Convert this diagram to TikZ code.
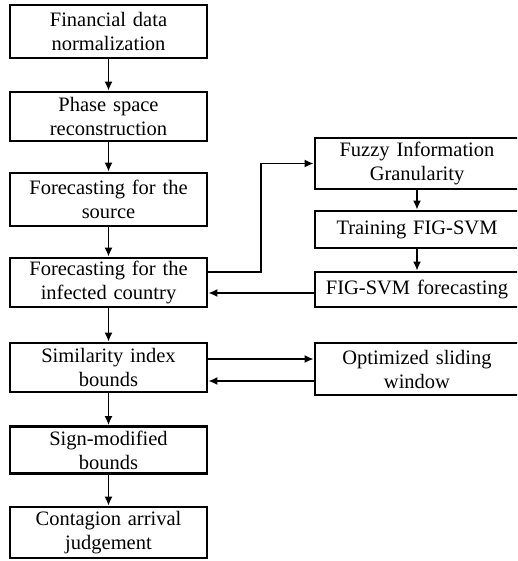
\documentclass[tikz,border=0pt]{standalone}
\usepackage{fontspec}
\setmainfont{Liberation Serif}
\usepackage{tikz}
\usetikzlibrary{arrows.meta, positioning}
\tikzstyle{paso} = [draw=black, line width=2.6pt, rectangle, inner sep=0pt, minimum width=197pt, text width=190pt, align=center, font=\fontsize{20.5}{24}\selectfont]
\tikzstyle{pasoder} = [paso, minimum width=204pt, text width=198pt]
\tikzstyle{flecha} = [line width=1.8pt, -{Latex[length=9pt,width=8pt]}]

\begin{document}
\begin{tikzpicture}[x=1pt, y=-1pt]
	\useasboundingbox (0,0) rectangle (517,561);
	\clip (0,0) rectangle (517,561);
	% columna izquierda
	\node [paso, minimum height=53pt] (norm) at (108.5,31.5) {Financial data\\normalization};
	\node [paso, minimum height=49pt] (phase) at (108.5,116.5) {Phase space\\reconstruction};
	\node [paso, minimum height=53pt] (source) at (108.5,199.5) {Forecasting for the\\source};
	\node [paso, minimum height=49pt] (infect) at (108.5,282.5) {Forecasting for the\\infected country};
	\node [paso, minimum height=49pt] (simil) at (108.5,367.5) {Similarity index\\bounds};
	\node [paso, minimum height=47pt] (sign) at (108.5,450) {Sign-modified\\bounds};
	\node [paso, minimum height=51pt] (judge) at (108.5,532.5) {Contagion arrival\\judgement};
	% columna derecha
	\node [pasoder, minimum height=51pt] (fuzzy) at (417,163.5) {Fuzzy Information\\Granularity};
	\node [pasoder, minimum height=37pt] (train) at (417,229.5) {Training FIG-SVM};
	\node [pasoder, minimum height=35pt] (figfc) at (417,289.5) {FIG-SVM forecasting};
	\node [pasoder, minimum height=52pt] (optim) at (417,369) {Optimized sliding\\window};
	% flechas
	\draw [flecha] (norm) -- (phase);
	\draw [flecha] (phase) -- (source);
	\draw [flecha] (source) -- (infect);
	\draw [flecha] (infect) -- (simil);
	\draw [flecha] (simil) -- (sign);
	\draw [flecha] (sign) -- (judge);
	\draw [flecha] (fuzzy) -- (train);
	\draw [flecha] (train) -- (figfc);
	\draw [flecha] ([yshift=10.5pt]infect.east) -- ++(53,0) |- (fuzzy.west);
	\draw [flecha] ([yshift=-3.5pt]figfc.west) -- ([yshift=-3.5pt]figfc.west -| infect.east);
	\draw [flecha] ([yshift=8.5pt]simil.east) -- ([yshift=8.5pt]simil.east -| optim.west);
	\draw [flecha] ([yshift=-13.5pt]simil.east -| optim.west) -- ([yshift=-13.5pt]simil.east);
\end{tikzpicture}
\end{document}
